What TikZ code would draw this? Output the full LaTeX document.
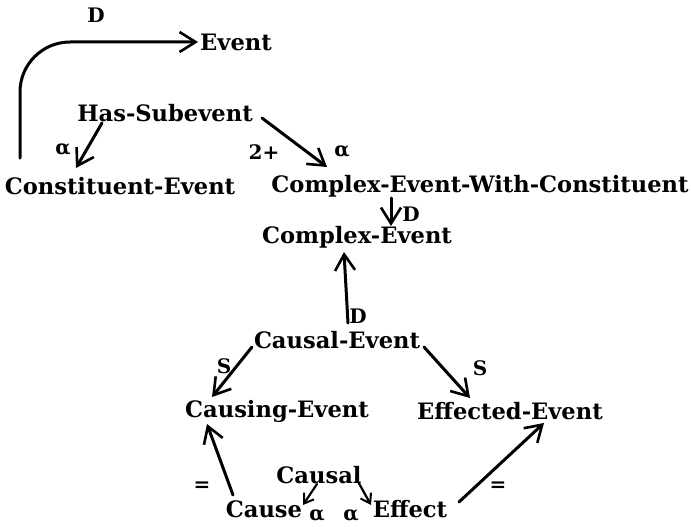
\documentclass[tikz,border=0pt]{standalone}
\usepackage{fontspec}
\setmainfont{DejaVu Serif}
\usetikzlibrary{arrows.meta}
\begin{document}
\begin{tikzpicture}[x=1pt,y=-1pt,
  lbl/.style={font=\bfseries\fontsize{22.6}{25}\selectfont, inner sep=1pt},
  tag/.style={font=\bfseries\fontsize{20}{22}\selectfont, inner sep=0pt},
  arr/.style={line width=3pt, line cap=round, -{Straight Barb[length=16pt,width=20pt,line width=2.6pt]}},
  sarr/.style={line width=2.2pt, line cap=round, -{Straight Barb[length=9pt,width=12pt,line width=2pt]}}]
\useasboundingbox (0,0) rectangle (691,527);
% concepts
\node[lbl] (ev) at (236,42) {Event};
\node[lbl] (hs) at (165,113) {Has-Subevent};
\node[lbl] (ce) at (120,186) {Constituent-Event};
\node[lbl] (cewc) at (480,186) {Complex-Event-With-Constituent};
\node[lbl] (cpx) at (357,237) {Complex-Event};
\node[lbl] (cse) at (337,340) {Causal-Event};
\node[lbl] (cing) at (277,411) {Causing-Event};
\node[lbl] (eff) at (510,411) {Effected-Event};
\node[lbl] (causal) at (319,475) {Causal};
\node[lbl] (cause) at (264,509) {Cause};
\node[lbl] (effect) at (410,509) {Effect};
% edge labels
\node[tag] at (96,15) {D};
\node[tag] at (63,150) {α};
\node[tag] at (264,152) {2+};
\node[tag] at (342,152) {α};
\node[tag] at (411,214) {D};
\node[tag] at (358,316) {D};
\node[tag] at (224,366) {S};
\node[tag] at (480,368) {S};
\node[tag] at (202,487) {=};
\node[tag] at (498,487) {=};
\node[tag] at (317,516) {α};
\node[tag] at (351,516) {α};
% connectors
\draw[arr, rounded corners=50pt] ([shift={(-100,-28)}]ce.center) |- ([shift={(-38,0)}]ev.center);
\draw[arr] ([shift={(-63,10)}]hs.center) -- ([shift={(-44,-18)}]ce.center);
\draw[arr] ([shift={(97,5)}]hs.center) -- ([shift={(-153,-19)}]cewc.center);
\draw[arr] ([shift={(-89,12)}]cewc.center) -- ([shift={(34,-11)}]cpx.center);
\draw[arr] ([shift={(11,-17)}]cse.center) -- ([shift={(-13,15)}]cpx.center);
\draw[arr] ([shift={(-85,7)}]cse.center) -- ([shift={(-65,-14)}]cing.center);
\draw[arr] ([shift={(87,7)}]cse.center) -- ([shift={(-40,-13)}]eff.center);
\draw[arr] ([shift={(-31,-14)}]cause.center) -- ([shift={(-70,13)}]cing.center);
\draw[arr] ([shift={(49,-7)}]effect.center) -- ([shift={(34,12)}]eff.center);
\draw[sarr] ([shift={(-2,9)}]causal.center) -- ([shift={(39,-4)}]cause.center);
\draw[sarr] ([shift={(37,3)}]causal.center) -- ([shift={(-39,-4)}]effect.center);
\end{tikzpicture}
\end{document}
